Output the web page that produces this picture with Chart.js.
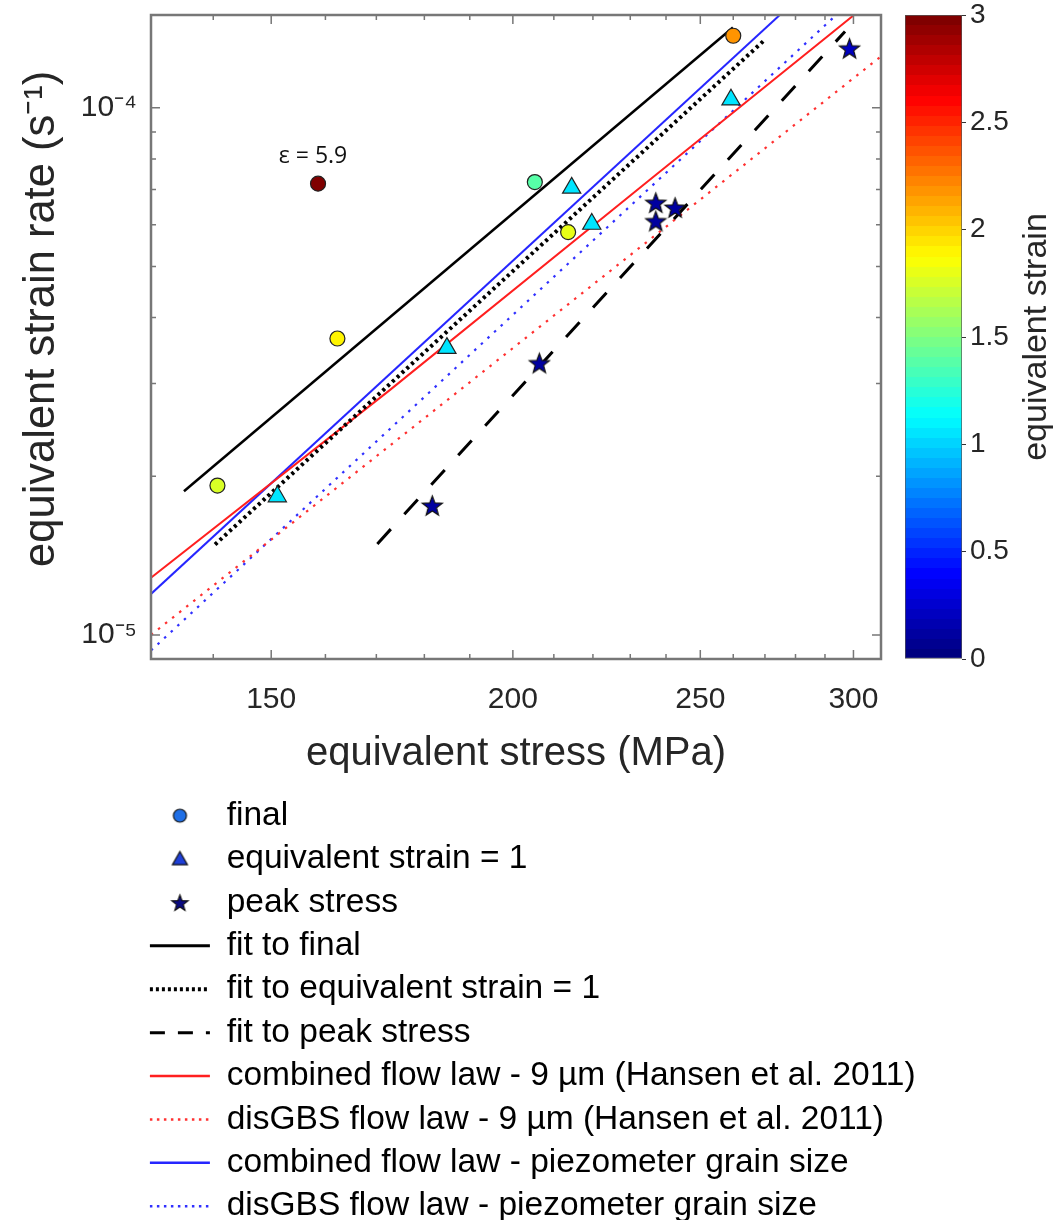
<!DOCTYPE html>
<html>
<head>
<meta charset="utf-8">
<script src="https://cdn.jsdelivr.net/npm/chart.js@4.4.1/dist/chart.umd.min.js"></script>
<style>
  html, body { margin: 0; padding: 0; background: #fff; overflow: hidden; }
  body { width: 1055px; height: 1220px; position: relative; }
  canvas { position: absolute; }
  #mainChart { left: 0; top: 0; }
  #barChart { left: 895px; top: 0; }
  #legendChart { left: 0; top: 772px; }
</style>
</head>
<body>
<canvas id="mainChart" width="895" height="790"></canvas>
<canvas id="barChart" width="160" height="700"></canvas>
<canvas id="legendChart" width="1055" height="480"></canvas>
<script>
// markers: stress (MPa), strain rate (1/s), equivalent strain (colour)
const finalStress = [140.7, 162.3, 213.6, 205.3, 260.0, 158.6];
const finalRate = [1.92e-5, 3.65e-5, 5.81e-5, 7.23e-5, 1.37e-4, 7.18e-5];
const finalStrain = [1.75, 1.9, 1.8, 1.4, 2.2, 5.9];

const strain1Stress = [151.1, 184.9, 214.5, 219.7, 259.3];
const strain1Rate = [1.83e-5, 3.50e-5, 7.05e-5, 6.02e-5, 1.036e-4];
const strain1Strain = [1.05, 1.05, 1.05, 1.05, 1.05];

const peakStress = [181.7, 206.4, 237.1, 242.6, 237.1, 298.6];
const peakRate = [1.76e-5, 3.28e-5, 6.61e-5, 6.47e-5, 6.10e-5, 1.297e-4];
const peakStrain = [0.1, 0.1, 0.1, 0.1, 0.1, 0.2];

// fitted lines (end points)
const fitFinalStress = [135.2, 259.9];
const fitFinalRate = [1.873e-5, 1.42e-4];
const fitStrain1Stress = [140.3, 269.9];
const fitStrain1Rate = [1.484e-5, 1.345e-4];
const fitPeakStress = [170.2, 297.0];
const fitPeakRate = [1.488e-5, 1.396e-4];

// flow laws
const combHansenStress = [130, 172.8, 235.5, 300.2];
const combHansenRate = [1.284e-5, 2.916e-5, 7.31e-5, 1.5e-4];
const disHansenStress = [130, 310];
const disHansenRate = [1.0e-5, 1.252e-4];
const combPiezoStress = [130, 274.8];
const combPiezoRate = [1.196e-5, 1.5e-4];
const disPiezoStress = [130, 293.9];
const disPiezoRate = [9.34e-6, 1.5e-4];

// axes
const xTicks = [140, 150, 160, 170, 180, 190, 200, 210, 220, 230, 240, 250, 260, 270, 280, 290, 300];
const xLabels = [150, 200, 250, 300];
const yTicks = [1e-5, 2e-5, 3e-5, 4e-5, 5e-5, 6e-5, 7e-5, 8e-5, 9e-5, 1e-4];
const yLabelValues = [1e-5, 1e-4];
const yLabelText = ['10⁻⁵', '10⁻⁴'];
const cbarTicks = [0, 0.5, 1, 1.5, 2, 2.5, 3];
const epsValue = 5.9;

const FONT = "'Liberation Sans', Arial, Helvetica, sans-serif";
const TEXT = '#262626';
Chart.defaults.font.family = FONT;

function jet(t) {
  const c = d => Math.round(255 * Math.min(1, Math.max(0, 1.5 - Math.abs(4 * t - d))));
  return 'rgb(' + c(3) + ',' + c(2) + ',' + c(1) + ')';
}
function strainColor(v) {
  const i = Math.min(63, Math.max(0, Math.floor(v / 3 * 64)));
  return jet(i / 63);
}
function pts(xs, ys) {
  return xs.map((x, i) => ({x: x, y: ys[i]}));
}
// keep the plot box where it is: no extra room for edge labels
function noPad(s) {
  s.paddingTop = 0; s.paddingBottom = 0; s.paddingLeft = 0; s.paddingRight = 0;
}

function markerImage(shape, fill, r) {
  const s = Math.ceil(2 * r + 4);
  const c = document.createElement('canvas');
  c.width = s; c.height = s;
  const g = c.getContext('2d');
  const m = s / 2;
  g.beginPath();
  if (shape === 'circle') {
    g.arc(m, m, r, 0, Math.PI * 2);
  } else if (shape === 'triangle') {
    g.moveTo(m, m - r);
    g.lineTo(m + r, m + r * 0.75);
    g.lineTo(m - r, m + r * 0.75);
    g.closePath();
  } else {
    for (let k = 0; k < 10; k++) {
      const rad = k % 2 ? r * 0.42 : r;
      const a = -Math.PI / 2 + k * Math.PI / 5;
      const x = m + rad * Math.cos(a), y = m + 1 + rad * Math.sin(a);
      if (k) g.lineTo(x, y); else g.moveTo(x, y);
    }
    g.closePath();
  }
  g.fillStyle = fill;
  g.fill();
  g.lineWidth = 1.2;
  g.strokeStyle = '#111';
  g.stroke();
  return c;
}

function lineSet(label, xs, ys, color, width, dash) {
  return {
    label: label, data: pts(xs, ys), showLine: true, pointRadius: 0,
    borderColor: color, borderWidth: width, borderDash: dash, order: 1
  };
}

const framePlugin = {
  id: 'frame',
  afterDraw(chart) {
    const {ctx, chartArea: a} = chart;
    const x = chart.scales.x, y = chart.scales.y;
    ctx.save();
    ctx.strokeStyle = '#777';
    ctx.lineWidth = 1.5;
    ctx.beginPath();
    xTicks.forEach(v => {
      const p = x.getPixelForValue(v);
      const len = xLabels.includes(v) ? 9 : 5;
      ctx.moveTo(p, a.bottom); ctx.lineTo(p, a.bottom - len);
      ctx.moveTo(p, a.top); ctx.lineTo(p, a.top + len);
    });
    yTicks.forEach(v => {
      const p = y.getPixelForValue(v);
      const len = yLabelValues.includes(v) ? 9 : 5;
      ctx.moveTo(a.left, p); ctx.lineTo(a.left + len, p);
      ctx.moveTo(a.right, p); ctx.lineTo(a.right - len, p);
    });
    ctx.stroke();
    ctx.lineWidth = 2.5;
    ctx.strokeRect(a.left, a.top, a.right - a.left, a.bottom - a.top);
    ctx.restore();
  }
};

const epsPlugin = {
  id: 'eps',
  afterDatasetsDraw(chart) {
    const p = chart.getDatasetMeta(0).data[finalStrain.indexOf(epsValue)];
    const ctx = chart.ctx;
    ctx.save();
    ctx.font = "23px 'Open Sans', sans-serif";
    ctx.fillStyle = '#111';
    ctx.textAlign = 'center';
    ctx.textBaseline = 'middle';
    ctx.fillText('ε = ' + epsValue, p.x - 5, p.y - 27);
    ctx.restore();
  }
};

new Chart(document.getElementById('mainChart'), {
  type: 'scatter',
  data: {
    datasets: [
      {
        label: 'final', data: pts(finalStress, finalRate), order: 0,
        pointStyle: 'circle', pointRadius: 7.5,
        pointBackgroundColor: finalStrain.map(strainColor),
        pointBorderColor: '#222', pointBorderWidth: 1.2
      },
      {
        label: 'equivalent strain = 1', data: pts(strain1Stress, strain1Rate), order: 0,
        pointStyle: 'triangle', pointRadius: 10.5,
        pointBackgroundColor: strain1Strain.map(strainColor),
        pointBorderColor: '#222', pointBorderWidth: 1.2
      },
      {
        label: 'peak stress', data: pts(peakStress, peakRate), order: 0,
        pointStyle: peakStrain.map(v => markerImage('star', strainColor(v), 10.5)),
        pointRadius: 10
      },
      lineSet('fit to final', fitFinalStress, fitFinalRate, '#000', 2.5, []),
      lineSet('fit to equivalent strain = 1', fitStrain1Stress, fitStrain1Rate, '#000', 4, [3, 3.5]),
      lineSet('fit to peak stress', fitPeakStress, fitPeakRate, '#000', 3, [20, 20]),
      lineSet('combined flow law - 9 µm (Hansen et al. 2011)', combHansenStress, combHansenRate, '#ff1f1f', 2, []),
      lineSet('disGBS flow law - 9 µm (Hansen et al. 2011)', disHansenStress, disHansenRate, '#ff3030', 2.2, [2.5, 6.5]),
      lineSet('combined flow law - piezometer grain size', combPiezoStress, combPiezoRate, '#2626ff', 2, []),
      lineSet('disGBS flow law - piezometer grain size', disPiezoStress, disPiezoRate, '#3030ff', 2.2, [2.5, 6.5])
    ]
  },
  options: {
    responsive: false,
    animation: false,
    events: [],
    layout: { padding: { top: 15, right: 14, left: 0, bottom: 0 } },
    plugins: { legend: { display: false }, tooltip: { enabled: false } },
    scales: {
      x: {
        type: 'logarithmic', min: 130, max: 310, bounds: 'data',
        afterBuildTicks: s => { s.ticks = xTicks.map(v => ({value: v})); },
        afterFit: s => { s.height = 131; noPad(s); },
        grid: { display: false, drawTicks: false },
        border: { display: false },
        ticks: {
          autoSkip: false, maxRotation: 0, padding: 23, color: TEXT,
          font: { size: 30 },
          callback: v => xLabels.includes(v) ? String(v) : ''
        },
        title: {
          display: true, text: 'equivalent stress (MPa)', color: TEXT,
          font: { size: 40 }, padding: { top: 0, bottom: 12 }
        }
      },
      y: {
        type: 'logarithmic', min: 9e-6, max: 1.5e-4, bounds: 'data',
        afterBuildTicks: s => { s.ticks = yTicks.map(v => ({value: v})); },
        afterFit: s => { s.width = 151; noPad(s); },
        grid: { display: false, drawTicks: false },
        border: { display: false },
        ticks: {
          autoSkip: false, padding: 14, color: TEXT,
          font: { size: 30 },
          callback: v => {
            const k = yLabelValues.indexOf(v);
            return k < 0 ? '' : yLabelText[k];
          }
        },
        title: {
          display: true, text: '\u00a0\u00a0\u00a0equivalent strain rate (s⁻¹)', color: TEXT,
          font: { size: 43.5 }, padding: { top: 16, bottom: 0 }
        }
      }
    }
  },
  plugins: [framePlugin, epsPlugin]
});

// colour bar
const cbarTitle = {
  id: 'cbarTitle',
  afterDraw(chart) {
    const {ctx, chartArea: a} = chart;
    ctx.save();
    ctx.translate(142, (a.top + a.bottom) / 2);
    ctx.rotate(-Math.PI / 2);
    ctx.font = '34px ' + FONT;
    ctx.fillStyle = TEXT;
    ctx.textAlign = 'center';
    ctx.textBaseline = 'middle';
    ctx.fillText('equivalent strain', 0, 0);
    ctx.restore();
  }
};

new Chart(document.getElementById('barChart'), {
  type: 'bar',
  data: {
    labels: [''],
    datasets: [{
      data: [[cbarTicks[0], cbarTicks[cbarTicks.length - 1]]],
      backgroundColor: c => {
        const a = c.chart.chartArea;
        if (!a) return '#888';
        const g = c.chart.ctx.createLinearGradient(0, a.bottom, 0, a.top);
        for (let i = 0; i < 64; i++) {
          g.addColorStop(i / 64, jet(i / 63));
          g.addColorStop((i + 1) / 64, jet(i / 63));
        }
        return g;
      },
      borderColor: '#555', borderWidth: 1, borderSkipped: false,
      barPercentage: 1, categoryPercentage: 1
    }]
  },
  options: {
    responsive: false,
    animation: false,
    events: [],
    layout: { padding: { left: 10, top: 15, bottom: 41, right: 0 } },
    plugins: { legend: { display: false }, tooltip: { enabled: false } },
    scales: {
      x: { display: false },
      y: {
        position: 'right', min: 0, max: 3,
        afterBuildTicks: s => { s.ticks = cbarTicks.map(v => ({value: v})); },
        afterFit: s => { s.width = 93; noPad(s); },
        grid: { drawOnChartArea: false, tickLength: 4, color: '#333' },
        border: { display: false },
        ticks: { padding: 4, color: TEXT, font: { size: 28 }, callback: v => String(v) }
      }
    }
  },
  plugins: [cbarTitle]
});

// legend
const legendEntries = [
  { text: 'final', pointStyle: markerImage('circle', '#1f6fe6', 6.5) },
  { text: 'equivalent strain = 1', pointStyle: markerImage('triangle', '#1e3fd8', 7.5) },
  { text: 'peak stress', pointStyle: markerImage('star', '#0a0a80', 8.5) },
  { text: 'fit to final', pointStyle: 'line', strokeStyle: '#000', lineWidth: 3, lineDash: [] },
  { text: 'fit to equivalent strain = 1', pointStyle: 'line', strokeStyle: '#000', lineWidth: 4, lineDash: [3, 3] },
  { text: 'fit to peak stress', pointStyle: 'line', strokeStyle: '#000', lineWidth: 3, lineDash: [15, 13] },
  { text: 'combined flow law - 9 µm (Hansen et al. 2011)', pointStyle: 'line', strokeStyle: '#ff1f1f', lineWidth: 2.5, lineDash: [] },
  { text: 'disGBS flow law - 9 µm (Hansen et al. 2011)', pointStyle: 'line', strokeStyle: '#ff3030', lineWidth: 2.5, lineDash: [2.5, 4.5] },
  { text: 'combined flow law - piezometer grain size', pointStyle: 'line', strokeStyle: '#2626ff', lineWidth: 2.5, lineDash: [] },
  { text: 'disGBS flow law - piezometer grain size', pointStyle: 'line', strokeStyle: '#3030ff', lineWidth: 2.5, lineDash: [2.5, 4.5] }
];

new Chart(document.getElementById('legendChart'), {
  type: 'scatter',
  data: { datasets: [] },
  options: {
    responsive: false,
    animation: false,
    events: [],
    layout: { padding: { left: 140, top: 17 } },
    scales: { x: { display: false }, y: { display: false } },
    plugins: {
      tooltip: { enabled: false },
      legend: {
        position: 'left', align: 'start', maxWidth: 950,
        labels: {
          usePointStyle: true, pointStyleWidth: 60, padding: 9.9,
          color: '#000', font: { size: 33.5 },
          generateLabels: () => legendEntries.map(e => ({
            text: e.text, pointStyle: e.pointStyle, hidden: false,
            fillStyle: e.strokeStyle || '#000', strokeStyle: e.strokeStyle || '#000',
            lineWidth: e.lineWidth || 0, lineDash: e.lineDash || []
          }))
        }
      }
    }
  }
});
</script>
</body>
</html>
